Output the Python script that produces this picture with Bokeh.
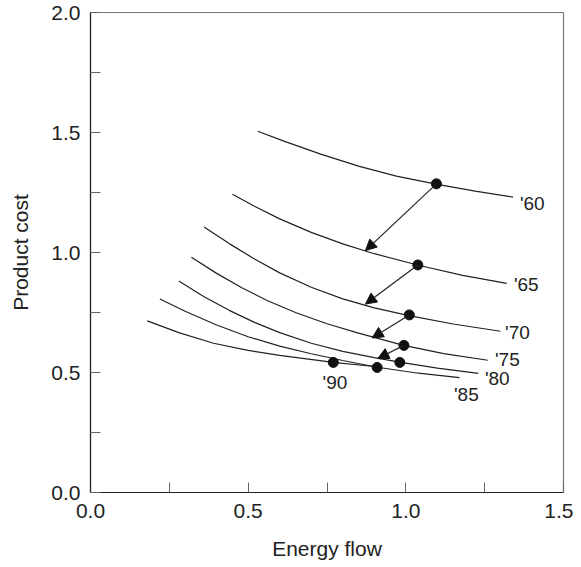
from bokeh.plotting import figure
from bokeh.models import FixedTicker, Arrow, NormalHead, ColumnDataSource, Range1d, CustomJSTickFormatter
from bokeh.core.properties import value
from bokeh.embed import file_html
from bokeh.resources import INLINE

# Curves (energy flow, product cost)
e60 = [0.53, 0.62, 0.73, 0.85, 0.97, 1.10, 1.22, 1.34]
c60 = [1.505, 1.461, 1.410, 1.360, 1.318, 1.284, 1.256, 1.231]
e65 = [0.45, 0.52, 0.60, 0.70, 0.80, 0.90, 1.04, 1.18, 1.32]
c65 = [1.243, 1.193, 1.140, 1.084, 1.036, 0.995, 0.947, 0.905, 0.871]
e70 = [0.36, 0.44, 0.52, 0.60, 0.70, 0.80, 0.90, 1.01, 1.15, 1.30]
c70 = [1.106, 1.037, 0.973, 0.915, 0.855, 0.807, 0.769, 0.737, 0.702, 0.672]
e75 = [0.32, 0.40, 0.48, 0.56, 0.65, 0.75, 0.85, 0.99, 1.12, 1.26]
c75 = [0.980, 0.913, 0.853, 0.800, 0.750, 0.703, 0.664, 0.614, 0.579, 0.551]
e80 = [0.28, 0.36, 0.44, 0.52, 0.60, 0.70, 0.80, 0.90, 0.98, 1.10, 1.23]
c80 = [0.881, 0.816, 0.759, 0.709, 0.666, 0.622, 0.588, 0.562, 0.543, 0.518, 0.496]
e85 = [0.22, 0.30, 0.40, 0.50, 0.60, 0.70, 0.80, 0.91, 1.04, 1.17]
c85 = [0.806, 0.755, 0.698, 0.649, 0.610, 0.578, 0.550, 0.522, 0.497, 0.479]
e90 = [0.18, 0.28, 0.39, 0.50, 0.60, 0.77, 0.90]
c90 = [0.715, 0.666, 0.622, 0.592, 0.571, 0.542, 0.525]

# Operating points per year
years = ["'60", "'65", "'70", "'75", "'80", "'85", "'90"]
pt_e = [1.097, 1.038, 1.011, 0.994, 0.981, 0.909, 0.770]
pt_c = [1.286, 0.948, 0.740, 0.613, 0.542, 0.521, 0.542]

# Arrow ends (on the next curve)
arr_e0 = [1.097, 1.038, 1.011, 0.994]
arr_c0 = [1.286, 0.948, 0.740, 0.613]
arr_e1 = [0.872, 0.872, 0.893, 0.911]
arr_c1 = [1.008, 0.785, 0.644, 0.558]

# Year label positions
lab_e = [1.401, 1.382, 1.354, 1.322, 1.290, 1.192, 0.775]
lab_c = [1.203, 0.867, 0.667, 0.554, 0.475, 0.408, 0.458]

FONT = "Liberation Sans"

p = figure(width=573, height=563, output_backend="svg", toolbar_location=None,
           x_range=Range1d(0, 1.5), y_range=Range1d(0, 2.0),
           min_border_left=90, min_border_top=12, min_border_right=10, min_border_bottom=71)
p.background_fill_color = "white"
p.border_fill_color = "white"
p.grid.visible = False
p.outline_line_color = "#777777"
p.outline_line_width = 1.2

for ax, ticks, minor in ((p.xaxis[0], [0, 0.5, 1.0, 1.5], [0.25, 0.75, 1.25]),
                         (p.yaxis[0], [0, 0.5, 1.0, 1.5, 2.0], [0.25, 0.75, 1.25, 1.75])):
    ax.ticker = FixedTicker(ticks=ticks, minor_ticks=minor)
    ax.major_tick_in = 10
    ax.major_tick_out = 0
    ax.minor_tick_in = 10
    ax.minor_tick_out = 0
    ax.major_tick_line_color = "#666666"
    ax.minor_tick_line_color = "#666666"
    ax.axis_line_color = "#222222"
    ax.axis_line_width = 1.2
    ax.major_label_text_font = FONT
    ax.major_label_text_font_size = "21px"
    ax.major_label_text_color = "#222222"
    ax.axis_label_text_font = FONT
    ax.axis_label_text_font_size = "21px"
    ax.axis_label_text_font_style = "normal"
    ax.axis_label_text_color = "#222222"

fmt = CustomJSTickFormatter(code="return tick.toFixed(1);")
p.xaxis[0].formatter = fmt
p.yaxis[0].formatter = fmt
p.xaxis[0].axis_label = "Energy flow"
p.yaxis[0].axis_label = "Product cost"
p.xaxis[0].major_label_standoff = 11
p.yaxis[0].major_label_standoff = 10
p.xaxis[0].axis_label_standoff = 16
p.yaxis[0].axis_label_standoff = 16

for e, c in ((e60, c60), (e65, c65), (e70, c70), (e75, c75), (e80, c80), (e85, c85), (e90, c90)):
    p.line(e, c, line_color="#222222", line_width=1.2)

src = ColumnDataSource(dict(x0=arr_e0, y0=arr_c0, x1=arr_e1, y1=arr_c1))
p.add_layout(Arrow(source=src, x_start="x0", y_start="y0", x_end="x1", y_end="y1",
                   line_color="#222222", line_width=1.2,
                   end=NormalHead(size=11, fill_color="#111111", line_color="#111111", line_width=1)))

p.scatter(pt_e, pt_c, size=10, fill_color="#111111", line_color="#111111")

p.text(lab_e, lab_c, text=years, text_font=value(FONT), text_font_size="19px",
       text_align="center", text_baseline="middle", text_color="#222222")

open("out.html", "w").write(file_html(p, INLINE))
